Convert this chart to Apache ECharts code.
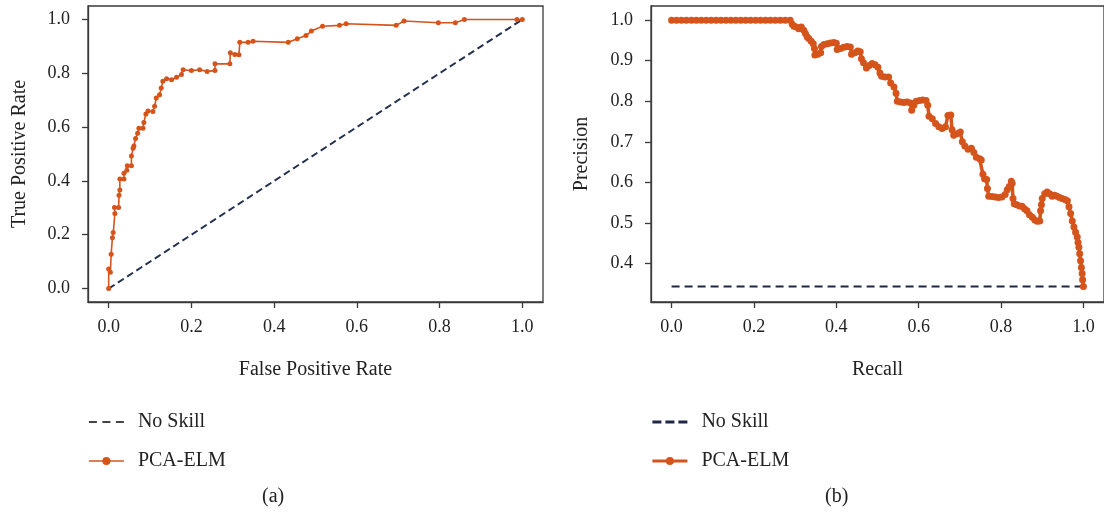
<!DOCTYPE html>
<html><head><meta charset="utf-8">
<script src="https://cdn.jsdelivr.net/npm/echarts@6/dist/echarts.min.js"></script>
<style>html,body{margin:0;padding:0;background:#fff}#c{width:1104px;height:515px}</style>
</head><body><div id="c"></div>
<script>
// ROC curve (a): [false positive rate, true positive rate]
const rocPoints = [
 [0,0],[0,0.073],[0.004,0.061],[0.006,0.127],[0.009,0.189],[0.011,0.208],[0.015,0.279],[0.014,0.301],[0.024,0.301],
 [0.025,0.347],[0.027,0.366],[0.027,0.407],[0.037,0.407],[0.037,0.428],[0.044,0.44],[0.045,0.456],[0.055,0.456],
 [0.055,0.493],[0.059,0.521],[0.061,0.53],[0.065,0.558],[0.07,0.577],[0.073,0.596],[0.083,0.596],[0.085,0.617],
 [0.09,0.649],[0.095,0.66],[0.107,0.658],[0.111,0.677],[0.115,0.708],[0.123,0.72],[0.127,0.745],[0.131,0.77],
 [0.14,0.78],[0.152,0.776],[0.164,0.785],[0.176,0.795],[0.18,0.813],[0.2,0.81],[0.22,0.813],[0.238,0.807],
 [0.257,0.81],[0.257,0.835],[0.293,0.835],[0.294,0.876],[0.305,0.87],[0.315,0.869],[0.317,0.915],[0.337,0.915],
 [0.349,0.919],[0.434,0.915],[0.456,0.928],[0.477,0.94],[0.49,0.957],[0.517,0.975],[0.558,0.978],[0.574,0.984],
 [0.695,0.978],[0.714,0.994],[0.797,0.988],[0.838,0.988],[0.86,1.0],[0.987,1.0],[1.0,1.0]
];
const rocNoSkill = [[0,0],[1,1]];

// Precision-recall curve (b): [recall, precision]
const prPoints = [
 [0.000,1.0],[0.012,1.0],[0.024,1.0],[0.036,1.0],[0.048,1.0],[0.060,1.0],[0.072,1.0],[0.084,1.0],[0.096,1.0],
 [0.108,1.0],[0.120,1.0],[0.132,1.0],[0.144,1.0],[0.156,1.0],[0.168,1.0],[0.180,1.0],[0.192,1.0],[0.204,1.0],
 [0.216,1.0],[0.228,1.0],[0.240,1.0],[0.252,1.0],[0.264,1.0],[0.276,1.0],[0.288,1.0],
 [0.293,0.99],[0.297,0.985],[0.303,0.983],[0.309,0.979],[0.315,0.983],[0.321,0.975],[0.325,0.967],[0.329,0.959],
 [0.333,0.955],[0.339,0.948],[0.344,0.942],[0.347,0.93],[0.348,0.914],[0.355,0.916],[0.362,0.92],[0.364,0.935],
 [0.370,0.94],[0.378,0.942],[0.386,0.944],[0.394,0.945],[0.400,0.943],[0.402,0.928],[0.410,0.93],[0.418,0.933],
 [0.426,0.935],[0.434,0.934],[0.437,0.916],[0.445,0.92],[0.452,0.924],[0.458,0.922],[0.461,0.905],[0.466,0.895],
 [0.473,0.882],[0.480,0.888],[0.487,0.893],[0.494,0.89],[0.501,0.884],[0.506,0.87],[0.510,0.862],[0.518,0.86],
 [0.527,0.86],[0.532,0.845],[0.540,0.835],[0.545,0.82],[0.548,0.8],[0.556,0.798],[0.564,0.797],[0.572,0.798],
 [0.580,0.796],[0.583,0.778],[0.588,0.79],[0.594,0.8],[0.602,0.802],[0.610,0.803],[0.618,0.802],[0.622,0.79],
 [0.625,0.763],[0.633,0.757],[0.641,0.745],[0.649,0.737],[0.657,0.733],[0.665,0.737],[0.671,0.765],[0.678,0.766],
 [0.681,0.73],[0.685,0.716],[0.693,0.72],[0.701,0.724],[0.706,0.7],[0.712,0.69],[0.720,0.682],[0.728,0.684],
 [0.734,0.674],[0.740,0.662],[0.748,0.658],[0.752,0.655],[0.756,0.62],[0.760,0.609],[0.765,0.607],[0.767,0.585],
 [0.770,0.566],[0.778,0.565],[0.786,0.564],[0.794,0.563],[0.802,0.564],[0.810,0.57],[0.815,0.582],[0.820,0.59],
 [0.825,0.603],[0.827,0.598],[0.829,0.56],[0.832,0.547],[0.838,0.545],[0.845,0.542],[0.851,0.541],[0.857,0.535],
 [0.863,0.53],[0.869,0.52],[0.876,0.514],[0.882,0.507],[0.888,0.504],[0.894,0.505],[0.896,0.53],[0.898,0.545],
 [0.900,0.56],[0.906,0.572],[0.912,0.576],[0.918,0.572],[0.924,0.566],[0.930,0.568],[0.936,0.566],[0.942,0.563],
 [0.948,0.56],[0.955,0.558],[0.961,0.555],[0.965,0.54],[0.969,0.523],[0.973,0.505],[0.977,0.49],[0.981,0.477],
 [0.985,0.465],[0.987,0.452],[0.989,0.44],[0.991,0.424],[0.993,0.407],[0.995,0.39],[0.997,0.375],[0.998,0.36],
 [1.0,0.343]
];
const prNoSkill = [[0,0.343],[1,0.343]];

const rocTicks = [0,0.2,0.4,0.6,0.8,1.0];
const prXTicks = [0,0.2,0.4,0.6,0.8,1.0];
const prYTicks = [0.4,0.5,0.6,0.7,0.8,0.9,1.0];
const seriesNames = ['No Skill','PCA-ELM'];
const captions = ['(a)','(b)'];
const axisTitles = ['False Positive Rate','True Positive Rate','Recall','Precision'];

const FONT = '"Liberation Serif","DejaVu Serif",serif';
const ORANGE = '#d4541c';
const NAVY = '#24324f';
const AX = '#3a3a3a';

function xAx(gi, name, ticks, min, max){
  return {
    type:'value', gridIndex:gi, min:min, max:max, name:name, nameLocation:'middle', nameGap:58,
    nameTextStyle:{fontFamily:FONT,fontSize:20,color:'#222'},
    axisLine:{show:true,onZero:false,lineStyle:{color:AX,width:1.3}},
    axisTick:{show:true,length:6,customValues:ticks,lineStyle:{color:AX,width:1.3}},
    axisLabel:{customValues:ticks,margin:16,fontFamily:FONT,fontSize:18,color:'#222',formatter:v=>v.toFixed(1)},
    splitLine:{show:false}
  };
}
function yAx(gi, name, ticks, min, max, gap){
  return {
    type:'value', gridIndex:gi, min:min, max:max, name:name, nameLocation:'middle', nameGap:gap,
    nameTextStyle:{fontFamily:FONT,fontSize:20,color:'#222'},
    axisLine:{show:true,onZero:false,lineStyle:{color:AX,width:1.3}},
    axisTick:{show:true,length:6,customValues:ticks,lineStyle:{color:AX,width:1.3}},
    axisLabel:{customValues:ticks,margin:18,fontFamily:FONT,fontSize:18,color:'#222',formatter:v=>v.toFixed(1)},
    splitLine:{show:false}
  };
}

const chart = echarts.init(document.getElementById('c'), null, {renderer:'canvas'});
chart.setOption({
  animation:false,
  backgroundColor:'#fff',
  grid:[
    {left:88, top:6, width:455, height:296, show:true, borderColor:AX, borderWidth:1.3, backgroundColor:'transparent'},
    {left:651, top:6, width:453, height:296, show:true, borderColor:AX, borderWidth:1.3, backgroundColor:'transparent'}
  ],
  xAxis:[ xAx(0, axisTitles[0], rocTicks, -0.05, 1.05), xAx(1, axisTitles[2], prXTicks, -0.05, 1.05) ],
  yAxis:[ yAx(0, axisTitles[1], rocTicks, -0.05, 1.05, 58), yAx(1, axisTitles[3], prYTicks, 0.305, 1.035, 59) ],
  legend:[
    {orient:'vertical', left:88, top:412, padding:0, itemWidth:35, itemHeight:10, itemGap:19,
     textStyle:{fontFamily:FONT,fontSize:20,color:'#222',lineHeight:20,padding:[0,0,0,9]},
     data:[
      {name:seriesNames[0], lineStyle:{color:'#444',width:1.8,type:[8,5.5]}, itemStyle:{opacity:0}},
      {name:seriesNames[1], lineStyle:{color:ORANGE,width:1.5}, itemStyle:{color:ORANGE}}
     ]},
    {orient:'vertical', left:651, top:412, padding:0, itemWidth:35, itemHeight:10, itemGap:19,
     textStyle:{fontFamily:FONT,fontSize:20,color:'#222',lineHeight:20,padding:[0,0,0,9]},
     data:[
      {name:seriesNames[0], lineStyle:{color:'#1f2748',width:2.8,type:[9,4]}, itemStyle:{opacity:0}},
      {name:seriesNames[1], lineStyle:{color:ORANGE,width:2.8}, itemStyle:{color:ORANGE}}
     ]}
  ],
  graphic:[
    {type:'text', left:262, top:487, style:{text:captions[0], font:'20px '+FONT, fill:'#222'}},
    {type:'text', left:825, top:487, style:{text:captions[1], font:'20px '+FONT, fill:'#222'}}
  ],
  series:[
    {name:seriesNames[0], type:'line', xAxisIndex:0, yAxisIndex:0, data:rocNoSkill, symbol:'none',
     lineStyle:{color:NAVY,width:2,type:[7,4]}, z:2},
    {name:seriesNames[1], type:'line', xAxisIndex:0, yAxisIndex:0, data:rocPoints, symbol:'circle', symbolSize:5,
     showAllSymbol:true, lineStyle:{color:ORANGE,width:1.6}, itemStyle:{color:ORANGE}, z:3},
    {name:seriesNames[0], type:'line', xAxisIndex:1, yAxisIndex:1, data:prNoSkill, symbol:'none',
     lineStyle:{color:'#1f2748',width:2,type:[8,5]}, z:2},
    {name:seriesNames[1], type:'line', xAxisIndex:1, yAxisIndex:1, data:prPoints, symbol:'circle', symbolSize:7,
     showAllSymbol:true, lineStyle:{color:ORANGE,width:3.5}, itemStyle:{color:ORANGE}, z:3}
  ]
});
</script></body></html>
